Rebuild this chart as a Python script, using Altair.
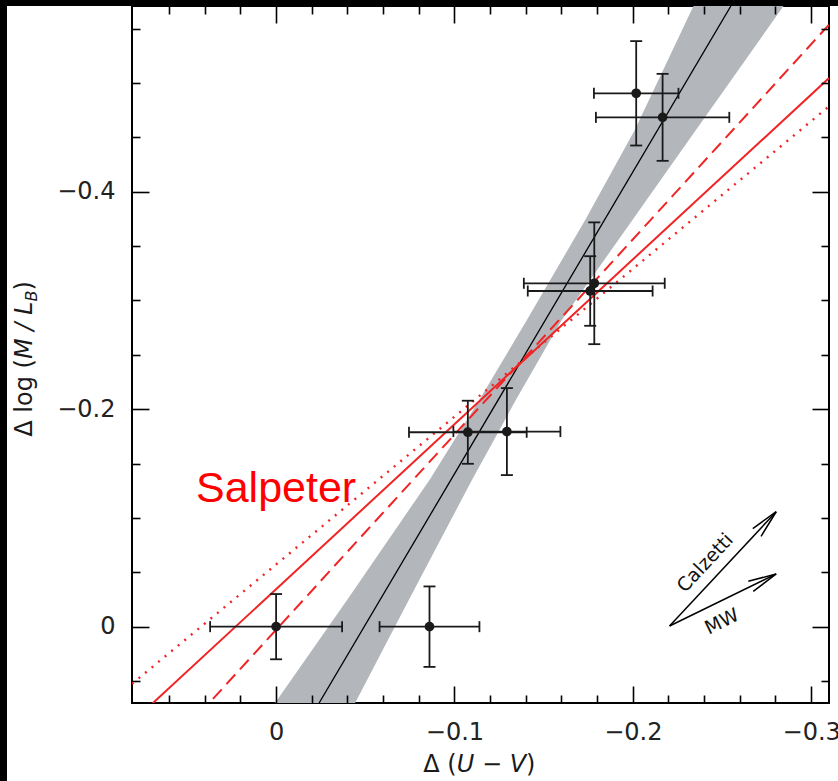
import altair as alt
import pandas as pd

# ---------------- data ----------------
# measured galaxies (x = Delta(U-V), y = Delta log(M/L_B))
pt_x = [0.000, -0.086, -0.1075, -0.1294, -0.1784, -0.1761, -0.2019, -0.2167]
pt_y = [0.000, 0.000, -0.1788, -0.1794, -0.3158, -0.3087, -0.4905, -0.4684]
pt_xerr = [0.037, 0.028, 0.033, 0.030, 0.0395, 0.035, 0.0237, 0.0374]
pt_yerr = [0.030, 0.037, 0.029, 0.040, 0.056, 0.032, 0.048, 0.040]

# best fit line (black) and its confidence band (grey)
fit_x = [-0.0241, -0.2550]
fit_y = [0.0702, -0.5708]
band_y = [0.0702, -0.0246, -0.1349, -0.2084, -0.2820, -0.3740, -0.4567, -0.5708]
band_xl = [0.0006, -0.0398, -0.0860, -0.1139, -0.1406, -0.1733, -0.2011, -0.2340]
band_xr = [-0.0443, -0.0744, -0.1098, -0.1344, -0.1602, -0.1998, -0.2354, -0.2845]

# Salpeter model lines (red): end points
salp_x = [0.0808, -0.310]
salp_solid_y = [0.0880, -0.5045]
salp_dash_y = [0.1479, -0.5536]
salp_dot_y = [0.0526, -0.4785]

# dust vectors
arrow_names = ["Calzetti", "MW"]
arrow_tail_x = [-0.2206, -0.2206]
arrow_tail_y = [-0.0006, -0.0006]
arrow_tip_x = [-0.2804, -0.2804]
arrow_tip_y = [-0.1057, -0.0485]
arrow_angle = [313, 334]
arrow_lab_x = [-0.2406, -0.2500]
arrow_lab_y = [-0.0586, -0.0046]

salp_label = ["Salpeter"]
salp_label_x = [0.0449]
salp_label_y = [-0.115]

x_major = [0, -0.1, -0.2, -0.3]
x_minor = [0.06, 0.04, 0.02, -0.02, -0.04, -0.06, -0.08, -0.12, -0.14, -0.16,
           -0.18, -0.22, -0.24, -0.26, -0.28]
y_major = [0, -0.2, -0.4]
y_minor = [0.05, -0.05, -0.1, -0.15, -0.25, -0.3, -0.35, -0.45, -0.5, -0.55]

# ---------------- tables ----------------
pts = pd.DataFrame({"x": pt_x, "y": pt_y, "xe": pt_xerr, "ye": pt_yerr})
pts["xlo"] = pts.x - pts.xe
pts["xhi"] = pts.x + pts.xe
pts["ylo"] = pts.y - pts.ye
pts["yhi"] = pts.y + pts.ye
fit = pd.DataFrame({"x": fit_x, "y": fit_y})
band = pd.DataFrame({"y": band_y, "xl": band_xl, "xr": band_xr})
solid = pd.DataFrame({"x": salp_x, "y": salp_solid_y})
dash = pd.DataFrame({"x": salp_x, "y": salp_dash_y})
dot = pd.DataFrame({"x": salp_x, "y": salp_dot_y})
arr = pd.DataFrame({"name": arrow_names, "x0": arrow_tail_x, "y0": arrow_tail_y,
                    "x1": arrow_tip_x, "y1": arrow_tip_y, "ang": arrow_angle,
                    "lx": arrow_lab_x, "ly": arrow_lab_y})
sal = pd.DataFrame({"t": salp_label, "x": salp_label_x, "y": salp_label_y})

W, H = 697, 697
FONT = "DejaVu Sans"
xs = alt.Scale(domain=[0.0808, -0.310], nice=False, zero=False)
ys = alt.Scale(domain=[0.0702, -0.5708], nice=False, zero=False)


def ax(orient, values, length, labels=False):
    kw = dict(orient=orient, values=values, grid=True, gridDash=[length, 3000],
              gridColor="black", gridWidth=1.6, gridOpacity=1, ticks=False,
              domain=False, labels=labels, title=None, zindex=1)
    if labels:
        kw.update(labelFont=FONT, labelFontSize=24, labelColor="#222222",
                  labelPadding=17,
                  labelExpr="datum.value == 0 ? '0' : format(datum.value, '.1f')")
    return alt.Axis(**kw)


def X(f, axis=None):
    return alt.X(f, scale=xs, axis=axis)


def Y(f, axis=None):
    return alt.Y(f, scale=ys, axis=axis)


band_l = alt.Chart(band).mark_area(orient="horizontal", color="#b3b7bc", clip=True).encode(
    y=Y("y:Q", ax("left", y_major, 17, True)),
    x=X("xl:Q", ax("bottom", x_major, 17, True)),
    x2="xr:Q",
)
fit_l = alt.Chart(fit).mark_line(color="black", strokeWidth=1.3, clip=True).encode(
    x=X("x:Q", ax("bottom", x_minor, 8)),
    y=Y("y:Q", ax("left", y_minor, 8)),
)
RED = "#f02424"
solid_l = alt.Chart(solid).mark_line(color=RED, strokeWidth=2, clip=True).encode(
    x=X("x:Q", ax("top", x_major, 17)),
    y=Y("y:Q", ax("right", y_major, 17)),
)
dash_l = alt.Chart(dash).mark_line(color=RED, strokeWidth=2, strokeDash=[13, 7], clip=True).encode(
    x=X("x:Q", ax("top", x_minor, 8)),
    y=Y("y:Q", ax("right", y_minor, 8)),
)
dot_l = alt.Chart(dot).mark_line(color=RED, strokeWidth=2.4, strokeDash=[2, 6.5], clip=True).encode(
    x=X("x:Q"), y=Y("y:Q"),
)

EB = "#1a1a1a"
vbar = alt.Chart(pts).mark_rule(color=EB, strokeWidth=1.8).encode(
    x=X("x:Q"), y=Y("ylo:Q"), y2="yhi:Q")
hbar = alt.Chart(pts).mark_rule(color=EB, strokeWidth=1.8).encode(
    y=Y("y:Q"), x=X("xlo:Q"), x2="xhi:Q")
cap_lo = alt.Chart(pts).mark_tick(color=EB, orient="horizontal", size=12, thickness=1.8, opacity=1).encode(
    x=X("x:Q"), y=Y("ylo:Q"))
cap_hi = alt.Chart(pts).mark_tick(color=EB, orient="horizontal", size=12, thickness=1.8, opacity=1).encode(
    x=X("x:Q"), y=Y("yhi:Q"))
cap_l = alt.Chart(pts).mark_tick(color=EB, orient="vertical", size=11, thickness=1.8, opacity=1).encode(
    x=X("xlo:Q"), y=Y("y:Q"))
cap_r = alt.Chart(pts).mark_tick(color=EB, orient="vertical", size=11, thickness=1.8, opacity=1).encode(
    x=X("xhi:Q"), y=Y("y:Q"))
dots = alt.Chart(pts).mark_point(filled=True, shape="circle", size=95, color=EB, opacity=1).encode(
    x=X("x:Q"), y=Y("y:Q"))

shaft = alt.Chart(arr).mark_rule(color="black", strokeWidth=1.5).encode(
    x=X("x0:Q"), y=Y("y0:Q"), x2="x1:Q", y2="y1:Q")
head = alt.Chart(arr).mark_point(shape="M -1 -0.2 L 0 0 L -1 0.2", filled=False,
                                  stroke="black", strokeWidth=1.5, size=3200, opacity=1).encode(
    x=X("x1:Q"), y=Y("y1:Q"), angle=alt.Angle("ang:Q", scale=None))
arr_txt = alt.Chart(arr).mark_text(font=FONT, fontSize=19, color="#111111",
                                    align="center", baseline="middle").encode(
    x=X("lx:Q"), y=Y("ly:Q"), text="name:N", angle=alt.Angle("ang:Q", scale=None))
sal_txt = alt.Chart(sal).mark_text(font="Liberation Sans", fontSize=43, color="#ff0000",
                                    align="left", baseline="alphabetic").encode(
    x=X("x:Q"), y=Y("y:Q"), text="t:N")


def label(t, x, y, size=24, italic=False, angle=0):
    kw = dict(font=FONT, fontSize=size, color="#1a1a1a", align="left", baseline="alphabetic")
    if italic:
        kw["fontStyle"] = "italic"
    if angle:
        kw["angle"] = angle
    return alt.Chart(pd.DataFrame({"t": [t]})).mark_text(**kw).encode(
        text="t:N", x=alt.value(x), y=alt.value(y))


titles = [
    label("Δ (", 291.3, 765.7),
    label("U − V", 324.7, 765.7, italic=True),
    label(")", 394.1, 765.7),
    label("Δ log (", -100.3, 430.7, angle=270),
    label("M / L", -100.3, 353.0, italic=True, angle=270),
    label("B", -95.3, 295.6, size=16, italic=True, angle=270),
    label(")", -100.3, 284.6, angle=270),
]

one = pd.DataFrame({"a": [0]})
strip_left = alt.Chart(one).mark_rect(color="black").encode(
    x=alt.value(-132), x2=alt.value(-125), y=alt.value(-6), y2=alt.value(775))
strip_top = alt.Chart(one).mark_rect(color="black").encode(
    x=alt.value(-132), x2=alt.value(706), y=alt.value(-6), y2=alt.value(0))

chart = alt.layer(
    band_l, fit_l, solid_l, dash_l, dot_l,
    vbar, hbar, cap_lo, cap_hi, cap_l, cap_r, dots,
    shaft, head, arr_txt, sal_txt, *titles, strip_left, strip_top,
).resolve_axis(x="independent", y="independent").properties(
    width=W, height=H,
    padding={"left": 132, "top": 6, "right": 9, "bottom": 78},
    autosize=alt.AutoSizeParams(type="none"),
    background="white",
).configure_view(stroke="black", strokeWidth=2)

chart.save("out.html", embed_options={"renderer": "svg", "actions": False})
